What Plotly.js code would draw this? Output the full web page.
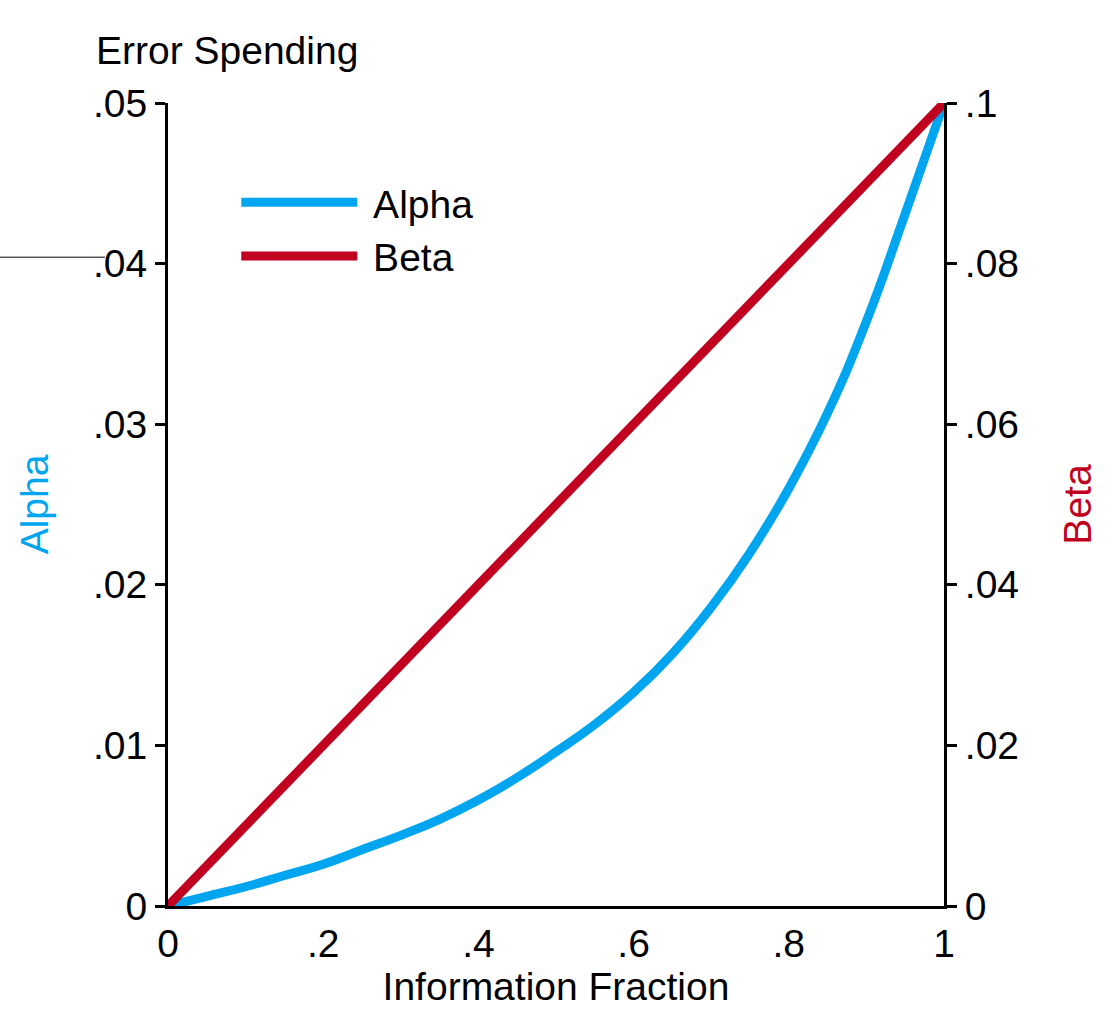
<!DOCTYPE html>
<html>
<head>
<meta charset="utf-8">
<script src="https://cdn.plot.ly/plotly-3.0.1.min.js"></script>
<style>
  html, body { margin: 0; padding: 0; background: #fff; }
  #chart { width: 1115px; height: 1033px; }
</style>
</head>
<body>
<div id="chart"></div>
<script>
// information fraction, read every .05
const infoFraction = [0, .05, .1, .15, .2, .25, .3, .35, .4, .45, .5,
  .55, .6, .65, .7, .75, .8, .85, .9, .95, 1];

// alpha spent (left axis)
const alphaSpent = [0, .0006, .0012, .0019, .0026, .0035, .0044, .0054, .0066, .0080, .0096,
  .0113, .0133, .0157, .0186, .0220, .0260, .0307, .0364, .0431, .05];

// beta spent (right axis)
const betaSpent = [0, .005, .01, .015, .02, .025, .03, .035, .04, .045, .05,
  .055, .06, .065, .07, .075, .08, .085, .09, .095, .1];

const xTicks = [0, .2, .4, .6, .8, 1];
const xTickText = ['0', '.2', '.4', '.6', '.8', '1'];
const alphaTicks = [0, .01, .02, .03, .04, .05];
const alphaTickText = ['0', '.01', '.02', '.03', '.04', '.05'];
const betaTicks = [0, .02, .04, .06, .08, .1];
const betaTickText = ['0', '.02', '.04', '.06', '.08', '.1'];

const BLUE = 'rgb(0, 165, 240)';
const RED = 'rgb(193, 0, 32)';
const FONT = 'Liberation Sans, Arial, sans-serif';

const alpha = {
  name: '\u00a0Alpha',
  x: infoFraction,
  y: alphaSpent,
  type: 'scatter',
  mode: 'lines',
  legendgroup: 'a',
  line: { color: BLUE, width: 9, shape: 'spline', smoothing: 1.3 }
};

const beta = {
  name: '\u00a0Beta',
  x: infoFraction,
  y: betaSpent,
  yaxis: 'y2',
  type: 'scatter',
  mode: 'lines',
  legendgroup: 'b',
  line: { color: RED, width: 9 }
};

const tickFont = { family: FONT, size: 39, color: 'black' };

const layout = {
  width: 1115,
  height: 1033,
  margin: { l: 168, r: 171, t: 103, b: 127 },
  paper_bgcolor: 'white',
  plot_bgcolor: 'white',
  font: { family: FONT, color: 'black' },
  title: {
    text: 'Error Spending',
    font: { family: FONT, size: 39, color: 'black' },
    xref: 'container', x: 96 / 1115, xanchor: 'left',
    yref: 'container', y: 1 - 50 / 1033, yanchor: 'middle'
  },
  xaxis: {
    range: [0, 1],
    tickvals: xTicks,
    ticktext: xTickText,
    ticks: '',
    ticklabelstandoff: 1,
    tickfont: tickFont,
    showline: true, linewidth: 3, linecolor: 'black',
    showgrid: false, zeroline: false,
    title: { text: 'Information Fraction', font: { family: FONT, size: 39 }, standoff: 8 }
  },
  yaxis: {
    range: [0, .05],
    tickvals: alphaTicks,
    ticktext: alphaTickText,
    ticks: 'outside', ticklen: 10, tickwidth: 3, tickcolor: 'black',
    tickfont: tickFont,
    showline: true, linewidth: 3, linecolor: 'black',
    showgrid: false, zeroline: false,
    title: { text: 'Alpha', font: { family: FONT, size: 39, color: BLUE }, standoff: 33 }
  },
  yaxis2: {
    range: [0, .1],
    overlaying: 'y',
    side: 'right',
    anchor: 'x',
    tickvals: betaTicks,
    ticktext: betaTickText,
    ticks: 'outside', ticklen: 10, tickwidth: 3, tickcolor: 'black',
    tickfont: tickFont,
    showline: true, linewidth: 3, linecolor: 'black',
    showgrid: false, zeroline: false,
    title: { text: 'Beta', font: { family: FONT, size: 39, color: RED }, standoff: 46 }
  },
  showlegend: true,
  legend: {
    x: 0.088, y: 0.916, xanchor: 'left', yanchor: 'top',
    bgcolor: 'rgba(0,0,0,0)',
    font: { family: FONT, size: 39, color: 'black' },
    itemwidth: 116,
    traceorder: 'grouped',
    tracegroupgap: 0
  },
  shapes: [{
    type: 'line', xref: 'paper', yref: 'paper',
    x0: -168 / 776, x1: -63 / 776, y0: 0.808, y1: 0.808,
    line: { color: 'black', width: 1 }
  }]
};

Plotly.newPlot('chart', [alpha, beta], layout, { staticPlot: true });
</script>
</body>
</html>
